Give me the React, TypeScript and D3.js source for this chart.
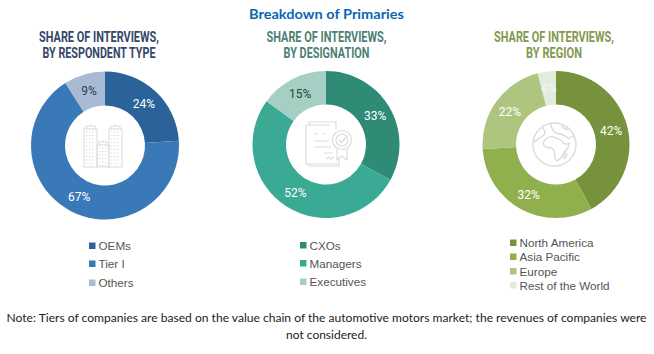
import React from "react";
import * as d3 from "d3";

const mainTitle = "Breakdown of Primaries";
const noteLines = [
  "Note: Tiers of companies are based on the value chain of the automotive motors market; the revenues of companies were",
  "not considered.",
];

const typeLabels = ["OEMs", "Tier I", "Others"];
const typeValues = [24, 67, 9];
const typeColors = ["#2b6299", "#3a79b8", "#a9bad4"];
const typeTextColors = ["#fff", "#fff", "#2c3e55"];

const desigLabels = ["CXOs", "Managers", "Executives"];
const desigValues = [33, 52, 15];
const desigColors = ["#2f8a76", "#3aaa94", "#a5cfc2"];
const desigTextColors = ["#fff", "#fff", "#24463c"];

const regionLabels = ["North America", "Asia Pacific", "Europe", "Rest of the World"];
const regionValues = [42, 32, 22, 4];
const regionColors = ["#76923c", "#8fb04d", "#aec57f", "#e3ebdc"];
const regionTextColors = ["#fff", "#fff", "#fff", "#f4f6f0"];

const NARROW = "'Liberation Sans Narrow', 'Roboto', 'Liberation Sans', sans-serif";
const BODY = "Lato, 'Open Sans', sans-serif";
const ICON = "#dcdcdc";

type DonutProps = {
  cx: number; cy: number; r0: number; r1: number;
  values: number[]; colors: string[]; textColors: string[];
  title: string[]; titleColor: string; titleCx: number; titleW: number[];
  labels: string[]; legendX: number; legendYs: number[];
};

function Donut(p: DonutProps) {
  const pie = d3.pie<number>().sort(null).value((d) => d);
  const arc = d3.arc<d3.PieArcDatum<number>>().innerRadius(p.r0).outerRadius(p.r1);
  const labelArc = d3.arc<d3.PieArcDatum<number>>().innerRadius(57).outerRadius(57);
  const arcs = pie(p.values);
  return (
    <g>
      {p.title.map((t, i) => (
        <text key={t} x={p.titleCx} y={41.5 + i * 16} textAnchor="middle" fontFamily={NARROW}
          fontWeight={700} fontSize={14} fill={p.titleColor}
          textLength={p.titleW[i]} lengthAdjust="spacingAndGlyphs">{t}</text>
      ))}
      <g transform={`translate(${p.cx},${p.cy})`}>
        {arcs.map((a, i) => <path key={i} d={arc(a) ?? ""} fill={p.colors[i]} />)}
        {arcs.map((a, i) => {
          const [x, y] = labelArc.centroid(a);
          return (
            <text key={i} x={x} y={y + 4.5} textAnchor="middle" fontFamily="Roboto, sans-serif" fontSize={12}
              fill={p.textColors[i]}>{p.values[i]}%</text>
          );
        })}
      </g>
      {p.labels.map((l, i) => (
        <g key={l}>
          <rect x={p.legendX} y={p.legendYs[i] - 3} width={6.5} height={6.5} fill={p.colors[i]} />
          <text x={p.legendX + 9.5} y={p.legendYs[i] + 4.5} fontFamily="'Liberation Sans', sans-serif" fontSize={11.7}
            fill="#555">{l}</text>
        </g>
      ))}
    </g>
  );
}

function BuildingIcon({ cx, cy }: { cx: number; cy: number }) {
  const towers = [[-21, -17, 13, 38], [-8, -1, 12, 22], [4, -17, 13, 38]];
  return (
    <g transform={`translate(${cx},${cy})`} fill="none" stroke={ICON} strokeWidth={1.1}>
      {towers.map(([x, y, w, h], i) => (
        <g key={i}>
          <rect x={x} y={y} width={w} height={h} />
          <path d={`M${x + 2},${y} V${y - 3} H${x + w - 2} V${y} M${x + w / 2},${y - 3} V${y - 5}`} />
          {d3.range(y + 3, y + h - 1, 3.5).map((yy) => (
            <path key={yy} d={`M${x + 2},${yy} H${x + w - 2}`} strokeDasharray="1.5 1.5" strokeWidth={1} />
          ))}
        </g>
      ))}
    </g>
  );
}

function CertIcon({ cx, cy }: { cx: number; cy: number }) {
  return (
    <g transform={`translate(${cx},${cy})`} fill="none" stroke={ICON} strokeWidth={1.2}>
      <path d="M3,-20 H-21 V19 H12 V12" />
      <path d="M-18,-20 V-23 H9 V-16 M-18,19 V21 H12 V19" />
      <path d="M-13,-11 H-9 M-5,-11 H-2 M-13,-4 H2 M-13,2 H4 M-3,8 H6 M-1,14 L2,12 L4,14 L7,12" />
      <circle cx={15} cy={-5} r={9.5} fill="#fff" />
      <circle cx={15} cy={-5} r={6} />
      <path d="M12,-5 L14.5,-2.5 L19,-8" />
      <path d="M10,4 V15 L15,11 L20,15 V4" />
    </g>
  );
}

function GlobeIcon({ cx, cy }: { cx: number; cy: number }) {
  return (
    <g transform={`translate(${cx},${cy})`} fill="none" stroke={ICON} strokeWidth={1.4}>
      <circle r={21.5} />
      <path d="M-9,-5 C-5,-9 -2,-8 1,-7 L5,-5 L8,-3 C9,0 11,0 15,-1 C14,4 11,6 9,9 C8,12 7,14 3,16 C1,17 0,13 0,9 C0,5 -3,3 -7,3 C-11,2 -13,-1 -9,-5 Z" />
      <path d="M-12,-17 C-9,-13 -8,-10 -13,-8 C-16,-6 -18,-3 -21,-3 M-4,-21 C-3,-16 -1,-12 3,-11 C8,-11 10,-9 14,-6 C16,-8 18,-9 20,-8 M7,-20 C8,-16 11,-15 14,-15" />
      <path d="M11,8 L12.5,11 L10,14 L9,11 Z" />
    </g>
  );
}

export default function App() {
  return (
    <svg width={654} height={354} style={{ position: "absolute", left: 0, top: 0, background: "#fff" }}>
      <text x={326.5} y={19} textAnchor="middle" fontFamily={BODY} fontWeight={700} fontSize={14}
        fill="#0b66b2" textLength={155} lengthAdjust="spacingAndGlyphs">{mainTitle}</text>

      <Donut cx={105} cy={145.5} r0={40} r1={74} values={typeValues} colors={typeColors} textColors={typeTextColors}
        title={["SHARE OF INTERVIEWS,", "BY RESPONDENT TYPE"]} titleColor="#33476a" titleCx={99} titleW={[120, 113]}
        labels={typeLabels} legendX={89} legendYs={[245.5, 263.5, 282.5]} />
      <BuildingIcon cx={105} cy={146} />

      <Donut cx={326} cy={144.5} r0={40} r1={73.5} values={desigValues} colors={desigColors} textColors={desigTextColors}
        title={["SHARE OF INTERVIEWS,", "BY DESIGNATION"]} titleColor="#4d7f74" titleCx={326.5} titleW={[120, 86]}
        labels={desigLabels} legendX={300} legendYs={[245, 263, 281.5]} />
      <CertIcon cx={327} cy={145} />

      <Donut cx={556} cy={144.5} r0={40} r1={73.5} values={regionValues} colors={regionColors} textColors={regionTextColors}
        title={["SHARE OF INTERVIEWS,", "BY REGION"]} titleColor="#84994f" titleCx={554} titleW={[120, 56]}
        labels={regionLabels} legendX={510} legendYs={[242.5, 256.5, 271, 285]} />
      <GlobeIcon cx={554.5} cy={144.5} />

      {noteLines.map((t, i) => (
        <text key={i} x={326.5} y={322 + i * 17} textAnchor="middle" fontFamily={BODY} fontSize={12} fill="#222"
          textLength={i === 0 ? 640 : 81} lengthAdjust="spacingAndGlyphs">{t}</text>
      ))}
    </svg>
  );
}
